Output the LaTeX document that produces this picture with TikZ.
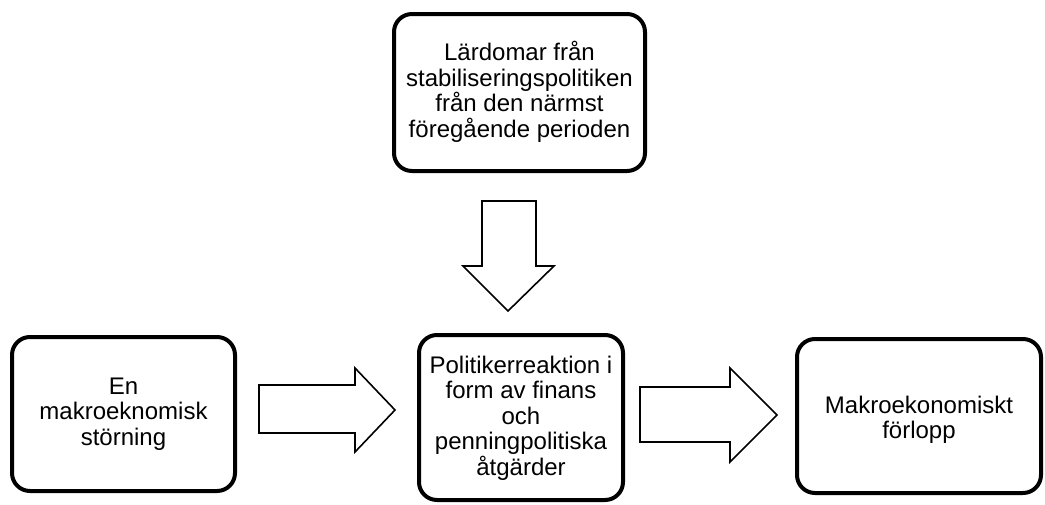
\documentclass[tikz,border=0pt]{standalone}
\usepackage{fontspec}
\setmainfont{Liberation Sans}
\begin{document}
\begin{tikzpicture}[x=1pt,y=-1pt,
  box/.style={draw=black,line width=4pt,rounded corners=18pt,fill=white},
  boxtext/.style={align=center,font=\fontsize{24}{25.5}\selectfont,inner sep=0pt},
  blockarrow/.style={draw=black,line width=1.6pt,fill=white,line join=miter}]
\useasboundingbox (0,0) rectangle (1045,504);
% boxes
\draw[box] (394,14) rectangle (645,171);
\draw[box] (12,337) rectangle (235,491);
\draw[box] (419,335) rectangle (623,500);
\draw[box] (797,339) rectangle (1041,493);
% texts
\node[boxtext] (top) at (519.5,92) {Lärdomar från\\stabiliseringspolitiken\\från den närmst\\föregående perioden};
\node[boxtext] (left) at (123.5,414) {En\\makroeknomisk\\störning};
\node[boxtext] (mid) at (521,418) {Politikerreaktion i\\form av finans\\och\\penningpolitiska\\åtgärder};
\node[boxtext] (right) at (919,420) {Makroekonomiskt\\förlopp};
% block arrows
\draw[blockarrow] (482,201) -- (536,201) -- (536,266) -- (554,266) -- (508,311) -- (463,266) -- (482,266) -- cycle;
\draw[blockarrow] (259,385) -- (355,385) -- (355,368) -- (395,410) -- (355,452) -- (355,433) -- (259,433) -- cycle;
\draw[blockarrow] (640,387) -- (730,387) -- (730,368) -- (777,415) -- (730,462) -- (730,442) -- (640,442) -- cycle;
\end{tikzpicture}
\end{document}
